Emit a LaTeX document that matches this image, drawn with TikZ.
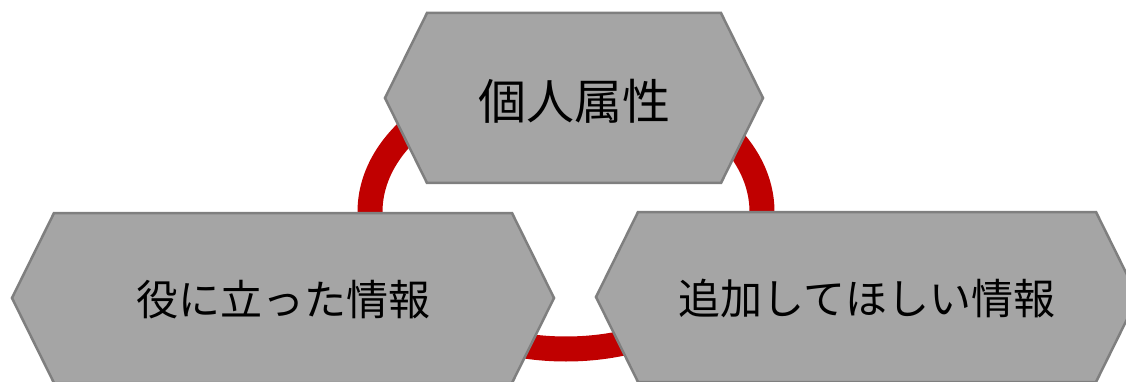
\documentclass[tikz,border=0pt]{standalone}
\usepackage{fontspec}
\newfontfamily\jpfont{Noto Sans CJK JP}
\definecolor{hexfill}{HTML}{A5A5A5}
\definecolor{hexline}{HTML}{7F7F7F}
\definecolor{ringred}{HTML}{C00000}
\tikzset{
  hexbox/.style={fill=hexfill, draw=hexline, line width=2.5pt, line join=miter},
  ring/.style={draw=ringred, line width=25pt},
  bigtext/.style={font=\jpfont\fontsize{48}{48}\selectfont, inner sep=0pt},
  midtext/.style={font=\jpfont\fontsize{42}{42}\selectfont, inner sep=0pt}
}
\begin{document}
\begin{tikzpicture}[x=1pt, y=-1pt]
\useasboundingbox (0,0) rectangle (1126,382);
\clip (0,0) rectangle (1126,382);
% ring
\draw[ring] (566,212) ellipse [x radius=196, y radius=137];
% top hexagon
\draw[hexbox] (385,98) -- (427,13) -- (721,13) -- (763,98) -- (721,183) -- (427,183) -- cycle;
\node[bigtext] (top) at (574,101) {個人属性};
% left hexagon
\draw[hexbox] (12,298) -- (54,213) -- (512,213) -- (554,298) -- (512,383) -- (54,383) -- cycle;
\node[midtext] (left) at (283,300) {役に立った情報};
% right hexagon
\draw[hexbox] (596,297) -- (638,212) -- (1096,212) -- (1138,297) -- (1096,382) -- (638,382) -- cycle;
\node[midtext] (right) at (867,299) {追加してほしい情報};
\end{tikzpicture}
\end{document}
